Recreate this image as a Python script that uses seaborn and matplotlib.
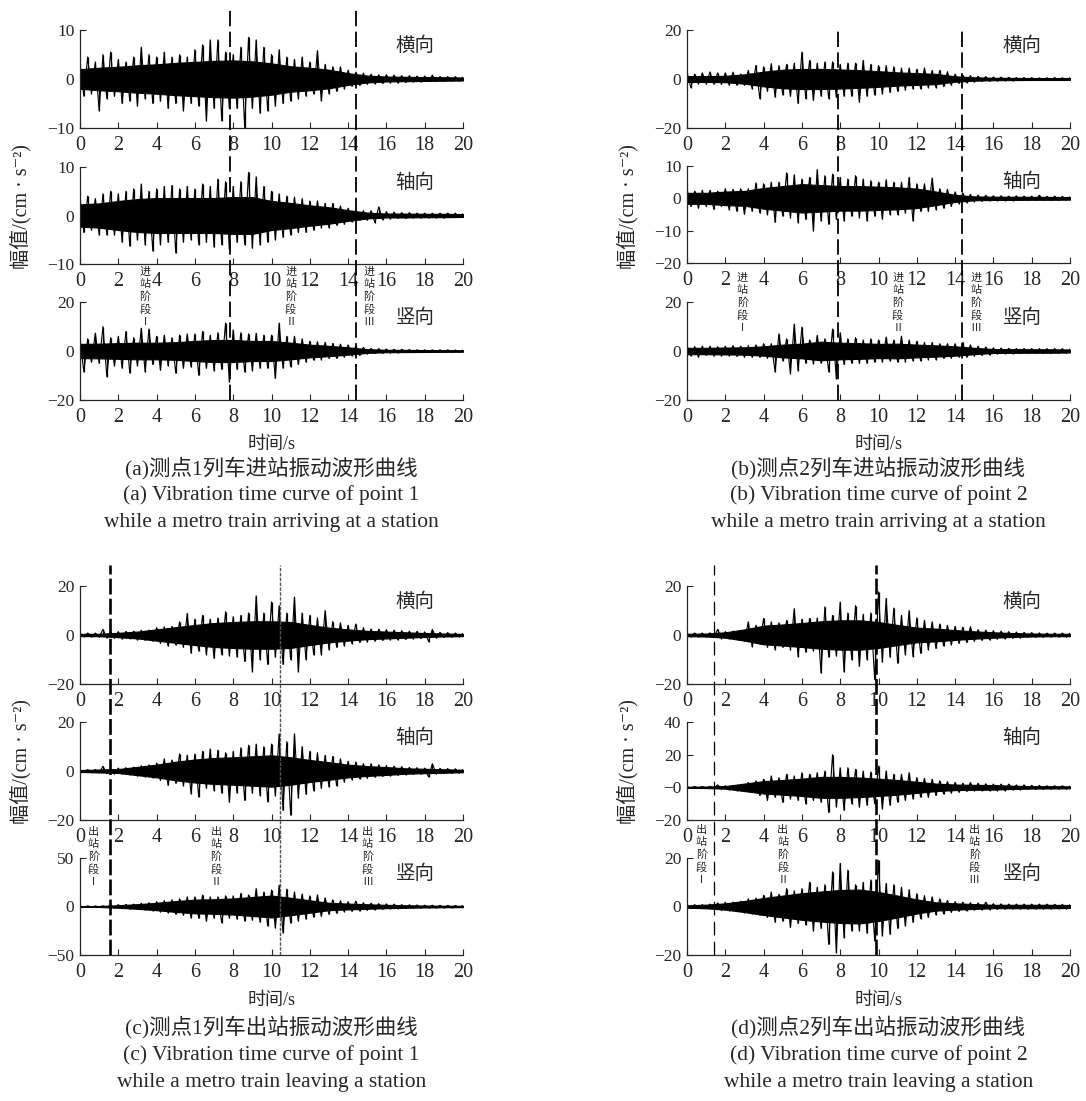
import numpy as np
import seaborn as sns
import matplotlib.pyplot as plt
from matplotlib.transforms import blended_transform_factory

# time grid of the digitised peaks (s) and of the dense core band (s)
time_s = np.round(np.arange(0, 20.001, 0.2), 1)
core_t = np.arange(0, 21)

# alternating up / down peaks, cm/s^2 (5 per second)
a_lat = [3, -3.5, 4.5, -3, 3.5, -6.5, 5, -4, 5.5, -3.5,
         4, -5, 3.5, -4.5, 4.5, -5.5, 6.5, -4, 5, -5,
         4.5, -4.5, 5.5, -6, 4.5, -5, 5, -6.5, 4.5, -5,
         6, -5.5, 7, -8.5, 8, -6, 8, -8.5, 5.5, -6,
         5, -6, 6.5, -9.9, 8.5, -6, 8, -7, 6.5, -6.5,
         5, -5.5, 6, -5, 4.5, -4.5, 4, -4, 4.5, -3.5,
         3.5, -3, 5.8, -4.4, 3, -3, 2.5, -2.5, 2.5, -2,
         1.8, -1.5, 1.4, -1.3, 1.2, -1.1, 1, -1, 0.9, -0.9,
         0.9, -0.8, 0.8, -0.8, 0.7, -0.7, 0.7, -0.6, 0.6, -0.6,
         0.6, -0.5, 0.8, -0.5, 0.5, -0.5, 0.5, -0.4, 0.5, -0.4, 0.4]
a_axial = [3.5, -3.5, 4, -3, 3.5, -4, 4.5, -4, 5, -4,
           4.5, -5.5, 5, -6.3, 5.5, -5, 6.5, -6, 5, -7.3,
           5.5, -6, 6, -5.5, 6.2, -7.7, 5.5, -5.5, 6, -5,
           5.5, -6, 6.5, -5.5, 6, -6.5, 7.5, -6, 7, -7,
           6, -5.5, 7, -6, 8.9, -6.7, 8, -6, 6, -5.5,
           5, -5, 4.5, -4.5, 4, -4, 3.8, -3.5, 3.5, -3.5,
           3, -3, 3, -2.5, 2.5, -2.5, 2.5, -2, 2, -1.8,
           1.5, -1.3, 1.2, -1, 1, -1, 1, -1.5, 1.8, -0.9,
           0.8, -0.7, 0.7, -0.6, 0.6, -0.6, 0.6, -0.5, 0.5, -0.5,
           0.5, -0.5, 0.5, -0.5, 0.5, -0.5, 0.5, -0.4, 0.5, -0.4, 0.4]
a_vert = [4.5, -8.5, 5, -4.5, 7.3, -5, 10, -10.5, 5.5, -6,
          6, -7, 8, -9, 5.5, -6, 9.3, -8.5, 9, -5.5,
          6, -7.8, 6.5, -6, 5.5, -9, 6.5, -7, 7, -6.5,
          7, -9.9, 8, -7, 6.5, -8, 7.5, -7.5, 11.4, -12.6,
          8.6, -7.5, 7.5, -8.5, 7, -8, 7.3, -7, 6.5, -7,
          6.5, -11.2, 11.4, -7, 6, -6.4, 6, -5.5, 5, -4.5,
          4, -3.7, 3.8, -3.5, 3.5, -3, 3.1, -3, 2.8, -2.5,
          2.5, -2, 2, -1.8, 1.5, -1.2, 1.1, -1, 1, -0.9,
          0.8, -0.8, 0.7, -0.7, 0.7, -0.6, 0.6, -0.6, 0.5, -0.5,
          0.5, -0.5, 0.5, -0.5, 0.5, -0.5, 0.5, -0.4, 0.4, -0.4, 0.4]

b_lat = [2.5, -3.5, 2, -2, 2.5, -2, 2.9, -2, 2.5, -2.2,
         2.5, -2.5, 2.8, -2.5, 2, -2.5, 3.5, -4, 5.6, -8,
         5, -5, 6.3, -7.4, 5.5, -6.5, 6, -7, 6.5, -10,
         11, -8, 7.6, -8.7, 6.5, -7, 7, -8, 7, -7.5,
         6, -7, 6.5, -7, 6.5, -9.4, 7.6, -7, 6, -6.5,
         5.5, -6, 5.5, -5.5, 5, -5, 4.5, -4.5, 4.5, -4,
         4, -4, 4.5, -3.5, 3.5, -3.5, 3.5, -3, 3, -2.5,
         2, -1.8, 1.6, -1.5, 1.4, -1.2, 1.1, -1, 1, -0.9,
         0.8, -0.8, 0.8, -0.7, 0.7, -0.7, 0.6, -0.6, 0.6, -0.6,
         0.6, -0.6, 0.5, -0.6, 0.5, -0.5, 0.6, -0.5, 0.5, -0.5, 0.5]
b_axial = [2.5, -2.5, 2.2, -3, 2.5, -2.5, 2.5, -3.4, 2.2, -2.5,
           3, -3.5, 2.8, -4, 3, -4.9, 3, -4, 4.8, -4.5,
           4.5, -5, 5, -7.4, 5, -5.5, 7.9, -6, 7.3, -7.5,
           6, -6.5, 6.5, -10, 8.9, -7, 7, -8, 7.5, -6.5,
           6.5, -7, 6, -5.5, 7, -6, 6, -7, 5.5, -5.5,
           5, -6.4, 5.8, -5, 5, -5, 5, -4.5, 6.5, -7,
           4.5, -4, 4.5, -4, 6.3, -3.5, 3, -3, 2.8, -2.5,
           2, -1.6, 1.7, -1.3, 1.2, -1, 1, -0.9, 0.9, -0.8,
           0.8, -0.7, 0.8, -0.7, 0.7, -0.7, 0.8, -0.6, 0.7, -0.6,
           0.7, -0.6, 1, -0.6, 0.6, -0.6, 0.7, -0.6, 0.6, -0.5, 0.5]
b_vert = [2, -2, 1.8, -2.5, 2, -1.8, 2, -2, 1.8, -2,
          2, -2, 2.2, -2.2, 2, -2.5, 2.2, -2.5, 2.5, -2.5,
          3, -3, 3, -8.5, 7, -4, 5, -9.2, 11, -8,
          9.8, -5, 4.5, -5.2, 6.4, -5, 5, -8.5, 9, -11.3,
          7.5, -5.5, 5, -5, 5.5, -5, 4.5, -5, 5, -4.5,
          4.5, -4.5, 5.7, -4, 4.5, -4.5, 6, -4.5, 4.5, -4,
          4, -4, 3.5, -3.5, 3.5, -3.5, 3, -3, 3, -3,
          3, -2.5, 3.5, -2.5, 2.5, -2, 2, -1.8, 1.6, -1.6,
          1.3, -1.2, 1.2, -1.1, 1.1, -1.1, 1, -1, 1, -1,
          1, -1, 1, -1, 1, -1, 1, -0.9, 1, -0.9, 0.8]

c_lat = [0.7, -0.7, 0.8, -0.7, 0.8, -0.8, 2.3, -1.2, 1.4, -1.3,
         1.4, -1.6, 1.5, -1.5, 1.6, -2, 2, -2.2, 2, -2.5,
         3, -3.4, 3.4, -4.5, 3.5, -4, 5.4, -5, 8.8, -7.4,
         6.5, -6.5, 8, -8, 6.5, -9.5, 7, -8, 9.5, -8.5,
         7.5, -9, 8, -10.8, 9, -14.9, 16, -10, 9, -12,
         13.5, -9, 12, -12, 9, -10, 15.5, -14.9, 9, -10,
         8, -8, 7, -8, 10, -6, 5.5, -5, 5, -4.5,
         4, -3.5, 4.5, -3, 3, -2.8, 2.5, -2.5, 2.4, -2.2,
         2.2, -2, 2, -2, 1.8, -1.8, 1.6, -1.6, 1.5, -1.4,
         1.3, -2.7, 2.3, -1.2, 1.1, -1, 1, -0.8, 0.8, -0.7, 0.7]
c_axial = [0.5, -0.5, 0.6, -0.5, 0.6, -0.6, 1.9, -1, 1, -1.1,
           1.2, -1.2, 1.4, -1.5, 1.6, -2, 2.2, -2.4, 2.5, -2.8,
           3.2, -3.8, 5, -5.9, 4.5, -5, 7, -6, 6.5, -9.3,
           7, -10.6, 8, -7, 9, -8, 8.5, -9, 7.5, -12.7,
           8, -9, 9.5, -12, 10.5, -9, 11, -10, 10, -12.5,
           11, -10, 15.2, -16, 12, -18, 15.2, -11, 10, -9.5,
           8, -8, 7.5, -7, 6.4, -6.5, 6, -6, 5, -4.5,
           4, -3.5, 3.7, -3.1, 3, -3, 3, -2.5, 2.5, -2.2,
           2.2, -2, 2, -1.8, 1.8, -1.5, 1.5, -1.4, 1.4, -1.2,
           1.2, -2.4, 3, -1.2, 1.1, -1, 1, -0.9, 0.9, -0.8, 0.7]
c_vert = [0.6, -0.6, 0.7, -0.6, 0.6, -0.7, 0.8, -0.8, 1.5, -1.5,
          2, -2, 2.2, -2.5, 2.5, -3, 3.4, -3.5, 4, -4.5,
          5, -5.5, 6, -6.5, 7, -8, 8, -9, 10, -11.8,
          10, -12, 11.8, -15, 10, -12, 10, -16.8, 11, -12,
          11, -13, 13.5, -15, 12, -14, 18.5, -16, 15, -20,
          17, -22, 22, -27, 18, -17, 15, -15, 13, -13,
          11, -11, 12, -10, 9, -8, 7, -7, 6, -5.5,
          5, -5, 5.5, -4.5, 4, -4, 3.5, -3.5, 3, -3,
          2.7, -2.5, 2.5, -2.2, 2, -2, 1.8, -1.8, 1.6, -1.5,
          1.4, -1.4, 1.3, -1.3, 1.2, -1.2, 1.1, -1.1, 1, -1, 1]

d_lat = [0.7, -0.7, 0.8, -0.7, 0.8, -0.8, 0.9, -1, 2.3, -1.5,
         1.4, -1.5, 1.6, -1.6, 1.8, -2.5, 5.4, -4.7, 4, -3.5,
         6.8, -5, 5.4, -6, 5, -5, 6, -6, 10.8, -8.8,
         6.5, -7, 6.8, -6.5, 7, -15.5, 11.5, -9, 8, -8.5,
         13.5, -15, 9, -10, 12, -12.8, 8.5, -10, 9, -18.2,
         17.6, -11, 14.9, -9, 11, -11.5, 8, -8, 10, -8.8,
         7, -7.5, 6, -6, 5.4, -5.5, 4.5, -4.5, 4, -4,
         3.5, -3.4, 3.2, -3, 3.4, -2.5, 2.2, -2.2, 2, -2,
         1.8, -1.7, 1.6, -1.5, 1.4, -1.3, 1.2, -1.2, 1.1, -1,
         1, -0.9, 0.9, -0.9, 0.8, -0.8, 0.8, -0.7, 0.8, -0.7, 0.7]
d_axial = [0.4, -0.4, 0.5, -0.4, 0.5, -0.5, 0.6, -0.6, 1.5, -1,
           1, -1.5, 1.2, -2, 1.5, -2.5, 3, -3, 4, -5,
           5, -8, 7, -6, 6, -9.2, 8, -7, 7, -8,
           9, -10, 8, -8, 9, -9, 10, -15.4, 20, -12,
           12, -14, 12, -10, 11, -12, 10, -11, 9.5, -10,
           13, -13, 10, -11, 8, -9, 8, -8, 9, -7,
           6, -6, 5.5, -6, 5, -5, 4, -4, 3.5, -3.5,
           3, -3, 2.5, -2.5, 3, -2.2, 2.5, -2, 2.2, -2,
           2, -2, 2, -2, 2, -1.5, 1.5, -1.5, 1.5, -1.2,
           1.2, -1.2, 1.2, -1.2, 1, -1, 1, -1, 1, -0.9, 0.8]
d_vert = [0.7, -0.7, 0.8, -0.7, 0.8, -0.8, 1, -1.2, 1.5, -1.6,
          1.8, -1.7, 1.8, -2, 2.2, -2.5, 3.2, -3, 3.5, -3.5,
          4.6, -4.5, 6, -6.5, 5, -6, 7.4, -8.6, 6.5, -7,
          7.4, -7.5, 10, -10, 8, -9, 9, -15.6, 14.3, -19,
          17.8, -12.8, 15, -10, 9, -10, 10, -11, 11, -14.2,
          19, -12, 9.5, -11.4, 9, -9, 8, -8, 7, -6.5,
          5.3, -5, 4.5, -4.5, 4, -3.5, 3.2, -3, 2.5, -2.4,
          2, -2, 1.8, -1.8, 1.6, -1.5, 1.5, -1.4, 1.8, -1.3,
          1.2, -1.2, 1.1, -1.1, 1, -1, 1, -1, 1, -1,
          1, -1, 1, -1, 1, -1, 0.9, -0.9, 0.9, -0.9, 0.8]

# half-width of the solid core band of each trace, one value per second
a_lat_core = [2, 2.3, 2.5, 2.8, 3, 3.3, 3.5, 3.7, 3.8, 3.6, 3.2,
              2.6, 2.3, 1.9, 1.2, 0.7, 0.5, 0.45, 0.4, 0.35, 0.3]
a_axial_core = [2.3, 2.5, 3, 3.4, 3.6, 3.6, 3.6, 3.6, 3.8, 3.8, 3,
                2.6, 2.1, 1.7, 1.1, 0.6, 0.4, 0.4, 0.35, 0.35, 0.3]
a_vert_core = [2.9, 3, 3.2, 3.4, 3.4, 3.6, 4.1, 4.5, 4.5, 4.1, 4.1,
               3.4, 2.6, 2.1, 1.5, 0.75, 0.5, 0.45, 0.4, 0.35, 0.3]
b_lat_core = [1.2, 1.2, 1.3, 1.9, 3, 3.8, 4.1, 4.1, 3.9, 3.6, 3.2,
              2.7, 2.4, 2.1, 1.1, 0.7, 0.5, 0.45, 0.4, 0.4, 0.4]
b_axial_core = [1.7, 1.7, 2.1, 2.3, 3.2, 3.8, 4.4, 4.1, 3.8, 3.8, 3.6,
                3.4, 3, 2.1, 1.1, 0.6, 0.5, 0.5, 0.45, 0.45, 0.4]
b_vert_core = [1.3, 1.3, 1.4, 1.5, 1.9, 2.6, 3, 3.8, 3.4, 3.2, 2.9,
               3, 2.6, 2.3, 1.9, 1.3, 0.8, 0.75, 0.7, 0.7, 0.6]
c_lat_core = [0.45, 0.5, 0.9, 1.4, 2.3, 3.2, 4.1, 4.9, 5.3, 5.6, 5.6,
              5.3, 4.1, 3, 2.3, 1.7, 1.4, 1.1, 0.8, 0.6, 0.45]
c_axial_core = [0.4, 0.6, 0.8, 1.7, 2.6, 3.8, 4.7, 5.3, 5.6, 6, 6.4,
                5.6, 4.5, 3.6, 2.6, 2, 1.6, 1.1, 0.9, 0.7, 0.5]
c_vert_core = [0.45, 0.5, 1.3, 2.4, 3.8, 5.6, 7.1, 7.5, 8.3, 9.8, 11.3,
               9, 6.4, 3.8, 3, 2.3, 1.7, 1.3, 1, 0.8, 0.75]
d_lat_core = [0.5, 0.6, 1.1, 2.3, 3.8, 4.3, 4.9, 5.6, 6, 6, 5.3,
              4.1, 3, 2.6, 2, 1.5, 1.1, 0.8, 0.6, 0.5, 0.5]
d_axial_core = [0.3, 0.45, 0.8, 2.3, 3.8, 4.5, 5.3, 6.4, 6.4, 6, 5.3,
                4.5, 3.4, 2.3, 1.7, 1.5, 1.4, 1, 0.75, 0.7, 0.6]
d_vert_core = [0.5, 0.75, 1.3, 2.3, 3.5, 4.5, 5.5, 6.2, 6.8, 7, 6,
               4.5, 2.9, 1.7, 1.3, 1, 0.7, 0.7, 0.7, 0.7, 0.6]

directions = ["横向", "轴向", "竖向"]

# stage boundaries (s) and stage-label positions (s)
a_bounds = [7.85, 14.4]
b_bounds = [7.9, 14.35]
c_bounds = [1.56, 10.45]
d_bounds = [1.43, 9.85]
a_stage_x = [3.4, 11.0, 15.1]
b_stage_x = [2.9, 11.0, 15.1]
c_stage_x = [0.7, 7.1, 15.0]
d_stage_x = [0.75, 5.0, 15.0]
arrive_stages = ["进站阶段Ⅰ", "进站阶段Ⅱ", "进站阶段Ⅲ"]
leave_stages = ["出站阶段Ⅰ", "出站阶段Ⅱ", "出站阶段Ⅲ"]

# y ticks
a_yticks = [[-10, 0, 10], [-10, 0, 10], [-20, 0, 20]]
b_yticks = [[-20, 0, 20], [-20, -10, 0, 10], [-20, 0, 20]]
c_yticks = [[-20, 0, 20], [-20, 0, 20], [-50, 0, 50]]
d_yticks = [[-20, 0, 20], [-20, 0, 20, 40], [-20, 0, 20]]
d_axial_ticklabels = ["−20", "−0", "20", "40"]

captions = {
    "a": ["(a)测点1列车进站振动波形曲线", "(a) Vibration time curve of point 1",
          "while a metro train arriving at a station"],
    "b": ["(b)测点2列车进站振动波形曲线", "(b) Vibration time curve of point 2",
          "while a metro train arriving at a station"],
    "c": ["(c)测点1列车出站振动波形曲线", "(c) Vibration time curve of point 1",
          "while a metro train leaving a station"],
    "d": ["(d)测点2列车出站振动波形曲线", "(d) Vibration time curve of point 2",
          "while a metro train leaving a station"],
}

for s in [a_lat, a_axial, a_vert, b_lat, b_axial, b_vert,
          c_lat, c_axial, c_vert, d_lat, d_axial, d_vert]:
    assert len(s) == len(time_s), len(s)

sns.set_style("ticks")
plt.rcParams["font.family"] = ["Liberation Serif", "Noto Sans CJK SC", "DejaVu Sans"]
plt.rcParams["axes.linewidth"] = 0.9

W, H = 1086, 1101
fig = plt.figure(figsize=(W / 100, H / 100), dpi=100)

thin = dict(color="black", lw=1.3, ls=(0, (8.5, 3)))
thick = dict(color="black", lw=1.9, ls=(0, (6, 1.6)))
light = dict(color="#555555", lw=1.0, ls=(0, (2.5, 1)))
thin_d = dict(color="black", lw=0.9, ls=(0, (11, 5)))

panels = [
    dict(key="a", left=80, rows=[(30, 128), (167, 264), (302, 400)], line_top=9,
         sig=[a_lat, a_axial, a_vert], core=[a_lat_core, a_axial_core, a_vert_core],
         yt=a_yticks, bounds=a_bounds, styles=[thin, thin], stage_x=a_stage_x,
         stages=arrive_stages, stage_top=267, ylab_y=207,
         text_y=[444, 468, 495, 522]),
    dict(key="b", left=687, rows=[(30, 128), (166, 263), (302, 400)], line_top=28,
         sig=[b_lat, b_axial, b_vert], core=[b_lat_core, b_axial_core, b_vert_core],
         yt=b_yticks, bounds=b_bounds, styles=[thin, thin], stage_x=b_stage_x,
         stages=arrive_stages, stage_top=273, ylab_y=207,
         text_y=[444, 468, 495, 522]),
    dict(key="c", left=80, rows=[(586, 684), (722, 820), (858, 955)], line_top=565,
         sig=[c_lat, c_axial, c_vert], core=[c_lat_core, c_axial_core, c_vert_core],
         yt=c_yticks, bounds=c_bounds, styles=[thick, light], stage_x=c_stage_x,
         stages=leave_stages, stage_top=827, ylab_y=762,
         text_y=[1001, 1027, 1055, 1082]),
    dict(key="d", left=687, rows=[(586, 684), (722, 820), (858, 955)], line_top=565,
         sig=[d_lat, d_axial, d_vert], core=[d_lat_core, d_axial_core, d_vert_core],
         yt=d_yticks, bounds=d_bounds, styles=[thin_d, thick], stage_x=d_stage_x,
         stages=leave_stages, stage_top=825, ylab_y=762,
         text_y=[1001, 1027, 1055, 1082]),
]

AX_W = 383
for p in panels:
    for k, (top, bot) in enumerate(p["rows"]):
        ax = fig.add_axes([p["left"] / W, 1 - bot / H, AX_W / W, (bot - top) / H])
        core = np.array(p["core"][k])
        sig = p["sig"][k]
        ax.fill_between(core_t, -core, core, color="black", lw=0.8, edgecolor="black")
        # each peak as a spike from the axis, plus the trace joining the peaks
        ax.vlines(time_s, 0, sig, color="black", lw=0.9)
        sns.lineplot(x=time_s, y=sig, ax=ax, color="black", lw=0.8, estimator=None)
        yt = p["yt"][k]
        ax.set_xlim(0, 20)
        ax.set_ylim(min(yt), max(yt))
        ax.set_xticks(range(0, 21, 2))
        ax.set_yticks(yt)
        if p["key"] == "d" and k == 1:
            ax.set_yticklabels(d_axial_ticklabels)
        ax.set_xlabel("")
        ax.set_ylabel("")
        ax.tick_params(axis="both", direction="in", length=4, width=0.8)
        ax.tick_params(axis="x", labelsize=14.5, pad=6)
        ax.tick_params(axis="y", labelsize=12.5, pad=4)
        sns.despine(ax=ax)
        ax.text(0.875, 0.84, directions[k], transform=ax.transAxes,
                ha="center", va="center", fontsize=14)

    # dashed stage boundaries running through all three traces
    top0, bot2 = p["line_top"], p["rows"][2][1]
    ov = fig.add_axes([p["left"] / W, 1 - bot2 / H, AX_W / W, (bot2 - top0) / H])
    ov.set_xlim(0, 20)
    ov.set_ylim(0, 1)
    ov.axis("off")
    for xb, st in zip(p["bounds"], p["styles"]):
        ov.axvline(xb, **st)
    tr = blended_transform_factory(ov.transData, fig.transFigure)
    for xs, lab in zip(p["stage_x"], p["stages"]):
        ov.text(xs, 1 - p["stage_top"] / H, "\n".join(lab), transform=tr,
                ha="center", va="top", fontsize=8, linespacing=1.25,
                family=["Noto Sans CJK SC", "DejaVu Sans"])

    cx = (p["left"] + AX_W / 2) / W
    fig.text((p["left"] - 59) / W, 1 - p["ylab_y"] / H, "幅值/(cm · s⁻²)",
             rotation=90, ha="center", va="center", fontsize=14.5)
    ty = p["text_y"]
    fig.text(cx, 1 - ty[0] / H, "时间/s", ha="center", va="center", fontsize=13)
    for line, yy in zip(captions[p["key"]], ty[1:]):
        fig.text(cx, 1 - yy / H, line, ha="center", va="center", fontsize=15.5)

fig.savefig("out.png", dpi=100)
